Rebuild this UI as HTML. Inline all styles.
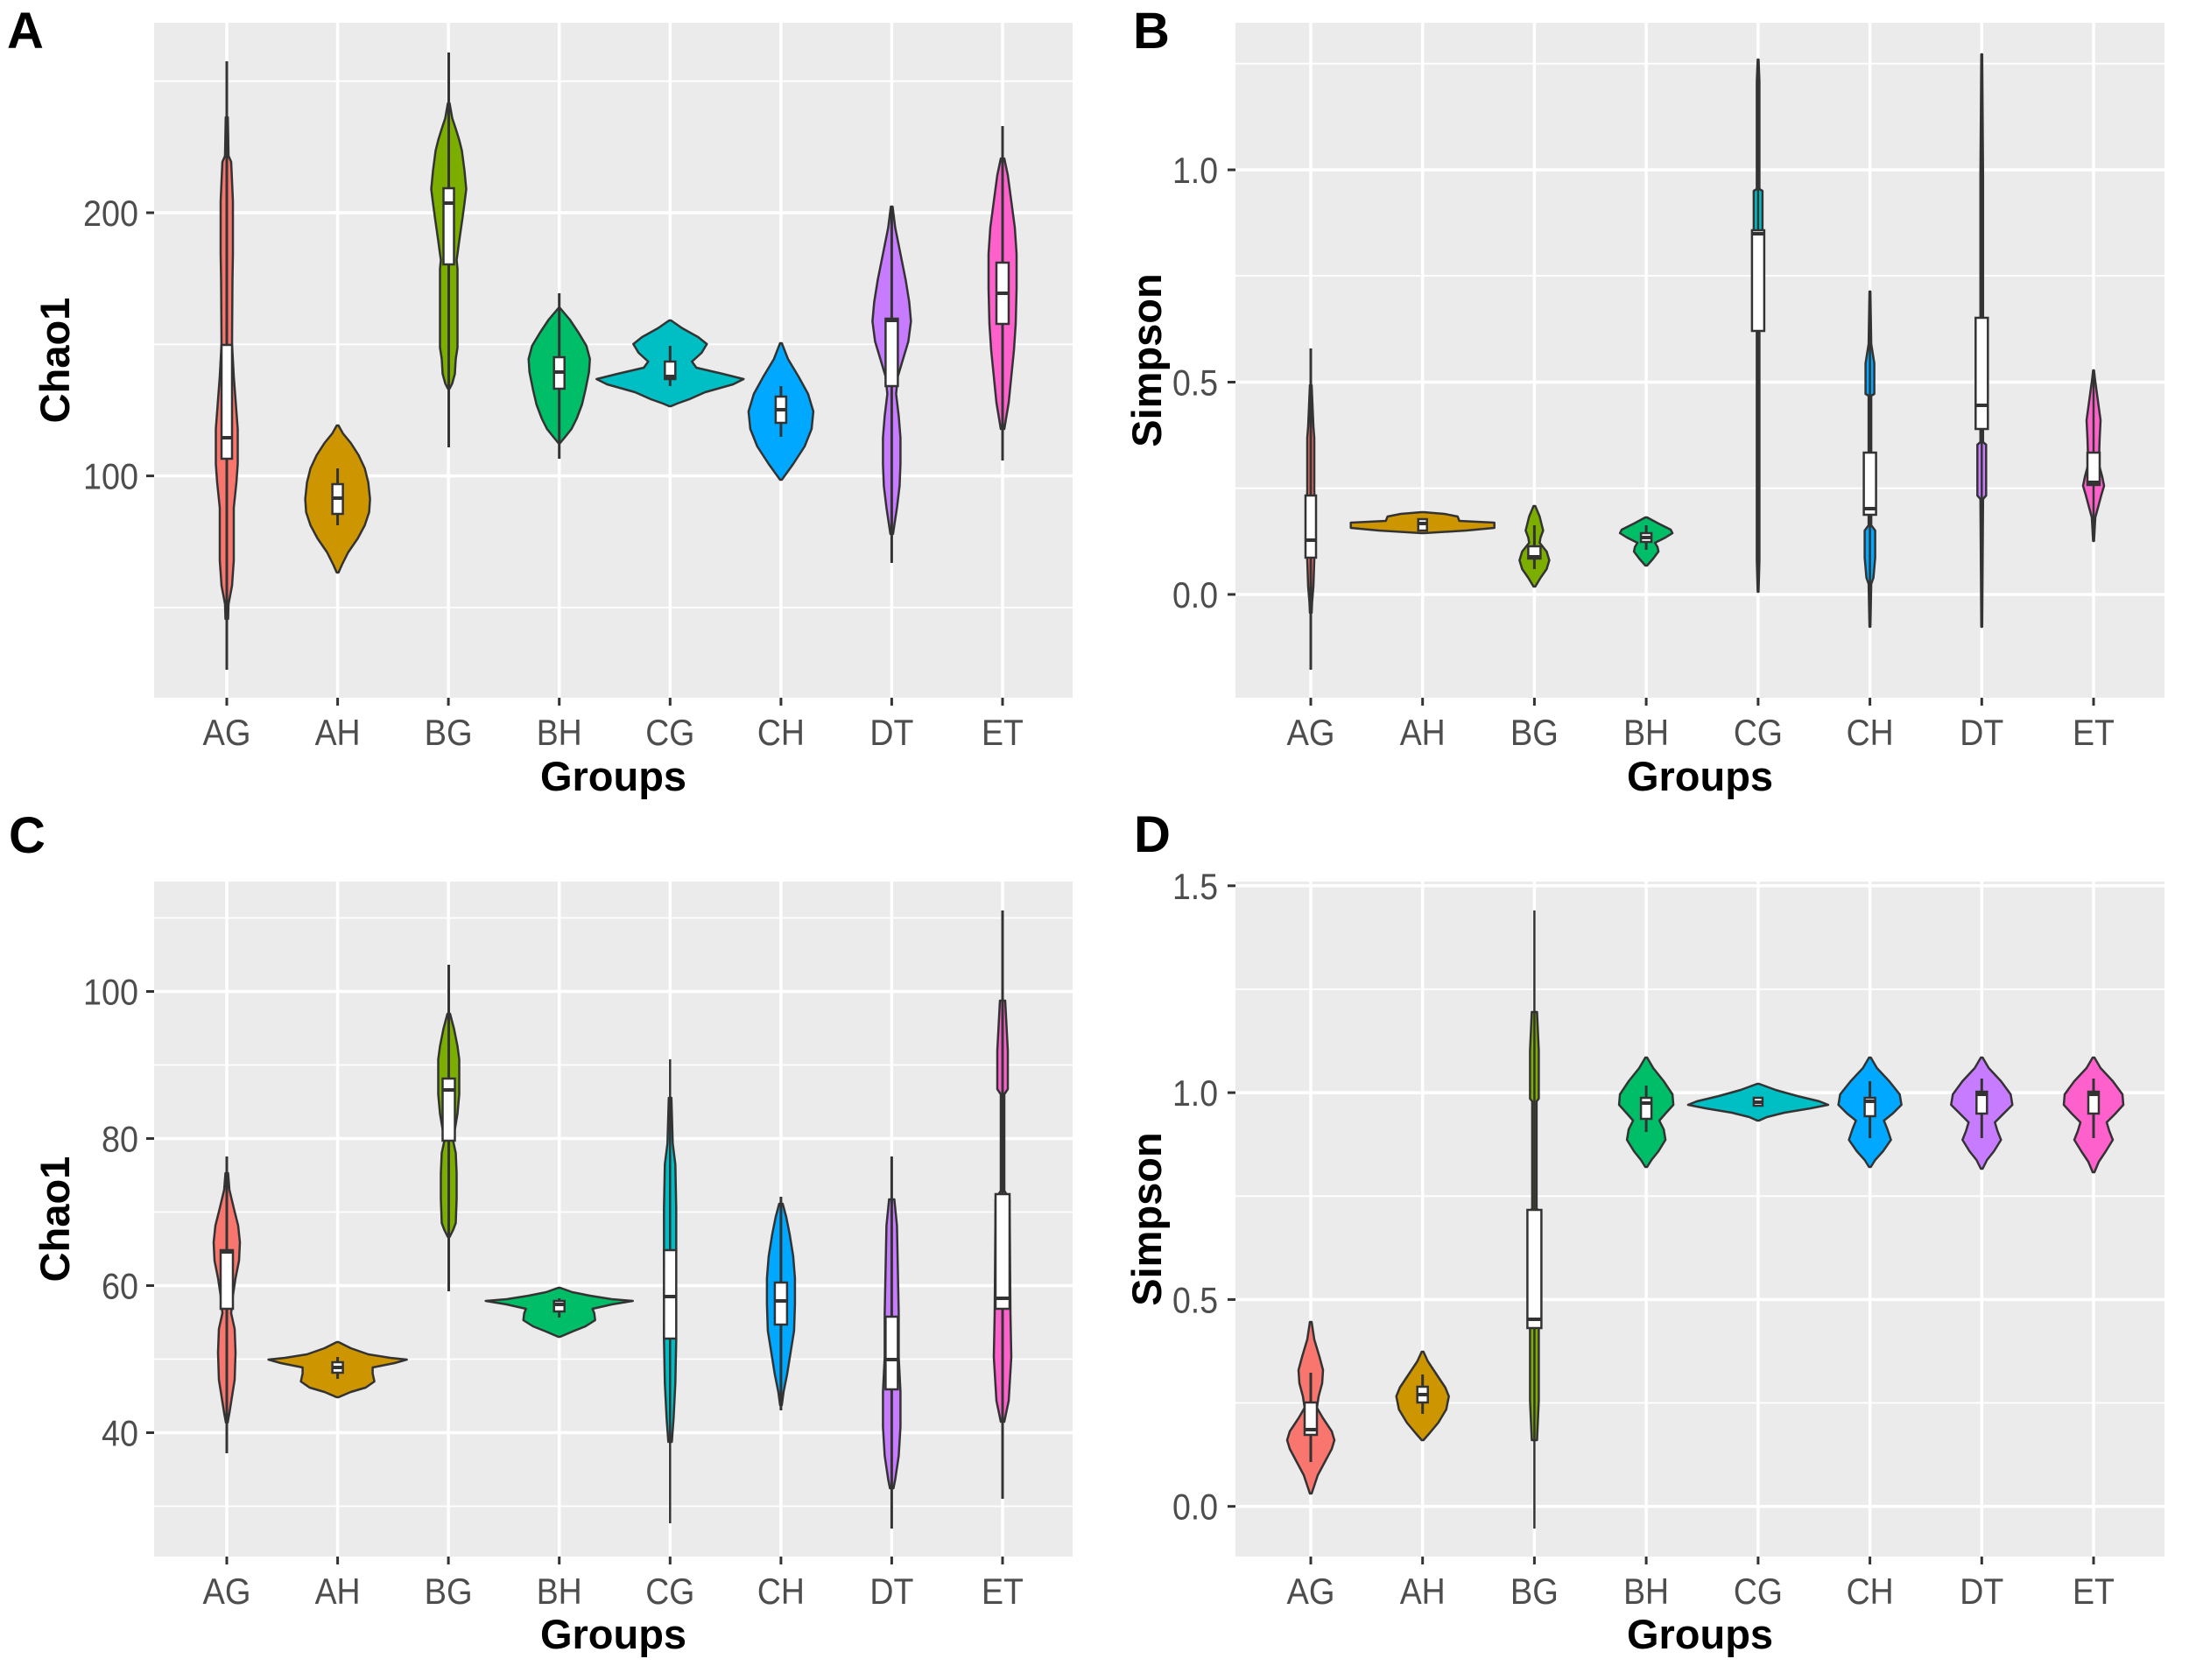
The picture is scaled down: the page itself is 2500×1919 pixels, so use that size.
<!DOCTYPE html>
<html><head><meta charset="utf-8"><style>
html,body{margin:0;padding:0;background:#fff;}
svg{display:block;}
.v{stroke:#333;stroke-width:2.5;stroke-linejoin:round;}
.ln{stroke:#333;stroke-width:3;}
.bx{fill:#fff;stroke:#333;stroke-width:2.5;}
.md{stroke:#333;stroke-width:4;}
.gM{stroke:#fff;stroke-width:3.5;}
.gm{stroke:#fff;stroke-width:1.8;}
.tk{stroke:#333;stroke-width:3;}
.tl{font-family:"Liberation Sans",Arial,sans-serif;font-size:42px;fill:#4d4d4d;}
.ti{font-family:"Liberation Sans",Arial,sans-serif;font-size:47px;font-weight:bold;fill:#000;}
.pl{font-family:"Liberation Sans",Arial,sans-serif;font-size:58px;font-weight:bold;fill:#000;}
</style></head><body>
<svg width="2500" height="1919" viewBox="0 0 2500 1919" xmlns="http://www.w3.org/2000/svg">
<rect width="2500" height="1919" fill="#fff"/>

<!-- ================= PANEL A ================= -->
<rect x="176" y="26" width="1049" height="771" fill="#ebebeb"/>
<g class="gm"><line x1="176" x2="1225" y1="92.7" y2="92.7"/><line x1="176" x2="1225" y1="393.3" y2="393.3"/><line x1="176" x2="1225" y1="694" y2="694"/></g>
<g class="gM"><line x1="176" x2="1225" y1="243" y2="243"/><line x1="176" x2="1225" y1="543.6" y2="543.6"/>
<line x1="259" x2="259" y1="26" y2="797"/><line x1="385.6" x2="385.6" y1="26" y2="797"/><line x1="512.1" x2="512.1" y1="26" y2="797"/><line x1="638.7" x2="638.7" y1="26" y2="797"/><line x1="765.3" x2="765.3" y1="26" y2="797"/><line x1="891.9" x2="891.9" y1="26" y2="797"/><line x1="1018.4" x2="1018.4" y1="26" y2="797"/><line x1="1145" x2="1145" y1="26" y2="797"/></g>

<g transform="translate(259,0)"><polygon class="v" fill="#F8766D" points="1.2,134 2,178 5,185 6,207 7,230 7,257 7,290 6.5,320 6,393 8,430 11,470 12.5,490 12.5,530 11,551 8,580 8,640 6,669 2,690 1.5,707 -1.5,707 -2,690 -6,669 -8,640 -8,580 -11,551 -12.5,530 -12.5,490 -11,470 -8,430 -6,393 -6.5,320 -7,290 -7,257 -7,230 -6,207 -5,185 -2,178 -1.2,134"/><line class="ln" x1="0" x2="0" y1="70" y2="765"/><rect class="bx" x="-6" y="394" width="12" height="130"/><line class="md" x1="-6" x2="6" y1="500" y2="500"/></g>

<g transform="translate(385.6,0)"><polygon class="v" fill="#CD9600" points="1,486 6,495 15,506 24,520 31,535 35,551 37,570 36,585 31,600 23,615 12,631 5,645 1,654 -1,654 -5,645 -12,631 -23,615 -31,600 -36,585 -37,570 -35,551 -31,535 -24,520 -15,506 -6,495 -1,486"/><line class="ln" x1="0" x2="0" y1="535" y2="600"/><rect class="bx" x="-6" y="553" width="12" height="34"/><line class="md" x1="-6" x2="6" y1="569" y2="569"/></g>

<g transform="translate(512.5,0)"><polygon class="v" fill="#7CAE00" points="1,118 4,135 8,147 12,160 15,172 18,195 20,216 18,232 16,247 14,261 12,275 10,290 9,297 10,307 10,350 10,397 8,410 7,427 4,438 1,444 -1,444 -4,438 -7,427 -8,410 -10,397 -10,350 -10,307 -9,297 -10,290 -12,275 -14,261 -16,247 -18,232 -20,216 -18,195 -15,172 -12,160 -8,147 -4,135 -1,118"/><line class="ln" x1="0" x2="0" y1="60" y2="511"/><rect class="bx" x="-6" y="215" width="12" height="87"/><line class="md" x1="-6" x2="6" y1="232" y2="232"/></g>

<g transform="translate(638.7,0)"><polygon class="v" fill="#00BE67" points="1,352 12,365 22,380 31,395 35,410 34,425 30,445 26,462 20,478 14,490 6,500 1,506 -1,506 -6,500 -14,490 -20,478 -26,462 -30,445 -34,425 -35,410 -31,395 -22,380 -12,365 -1,352"/><line class="ln" x1="0" x2="0" y1="335" y2="524"/><rect class="bx" x="-6" y="408" width="12" height="36"/><line class="md" x1="-6" x2="6" y1="425" y2="425"/></g>

<g transform="translate(765.3,0)"><polygon class="v" fill="#00BFC4" points="1,366 14,375 32,385 42,393 36,403 25,413 30,420 60,427 84,433 72,439 40,448 22,456 8,461 1,464 -1,464 -8,461 -22,456 -40,448 -72,439 -84,433 -60,427 -30,420 -25,413 -36,403 -42,393 -32,385 -14,375 -1,366"/><line class="ln" x1="0" x2="0" y1="395" y2="441"/><rect class="bx" x="-6" y="413" width="12" height="20"/><line class="md" x1="-6" x2="6" y1="430" y2="430"/></g>

<g transform="translate(891.9,0)"><polygon class="v" fill="#00A9FF" points="1,392 8,410 20,430 31,450 37,470 35,490 27,510 14,530 1,548 -1,548 -14,530 -27,510 -35,490 -37,470 -31,450 -20,430 -8,410 -1,392"/><line class="ln" x1="0" x2="0" y1="441" y2="499"/><rect class="bx" x="-6" y="453" width="12" height="30"/><line class="md" x1="-6" x2="6" y1="468" y2="468"/></g>

<g transform="translate(1018.4,0)"><polygon class="v" fill="#C77CFF" points="1,236 4,260 10,290 16,320 20,345 22,367 19,390 13,410 7,430 5,450 8,475 10,500 10,530 9,555 6,580 3,600 1.5,610 -1.5,610 -3,600 -6,580 -9,555 -10,530 -10,500 -8,475 -5,450 -7,430 -13,410 -19,390 -22,367 -20,345 -16,320 -10,290 -4,260 -1,236"/><line class="ln" x1="0" x2="0" y1="236" y2="643"/><rect class="bx" x="-7" y="364" width="14" height="77"/><line class="md" x1="-7" x2="7" y1="366" y2="366"/></g>

<g transform="translate(1145,0)"><polygon class="v" fill="#FF61CC" points="2,181 6,200 10,230 14,260 16,290 16,330 15,370 13,400 10,430 7,460 2,490 -2,490 -7,460 -10,430 -13,400 -15,370 -16,330 -16,290 -14,260 -10,230 -6,200 -2,181"/><line class="ln" x1="0" x2="0" y1="144" y2="526"/><rect class="bx" x="-7" y="300" width="14" height="70"/><line class="md" x1="-7" x2="7" y1="335" y2="335"/></g>

<g class="tk"><line x1="167" x2="176" y1="243" y2="243"/><line x1="167" x2="176" y1="543.6" y2="543.6"/>
<line x1="259" x2="259" y1="797" y2="806"/><line x1="385.6" x2="385.6" y1="797" y2="806"/><line x1="512.1" x2="512.1" y1="797" y2="806"/><line x1="638.7" x2="638.7" y1="797" y2="806"/><line x1="765.3" x2="765.3" y1="797" y2="806"/><line x1="891.9" x2="891.9" y1="797" y2="806"/><line x1="1018.4" x2="1018.4" y1="797" y2="806"/><line x1="1145" x2="1145" y1="797" y2="806"/></g>
<g class="tl" text-anchor="end"><text x="158" y="258" textLength="63" lengthAdjust="spacingAndGlyphs">200</text><text x="158" y="558.6" textLength="63" lengthAdjust="spacingAndGlyphs">100</text></g>
<g class="tl" text-anchor="middle"><text x="259" y="851" textLength="55" lengthAdjust="spacingAndGlyphs">AG</text><text x="385.6" y="851" textLength="52" lengthAdjust="spacingAndGlyphs">AH</text><text x="512.1" y="851" textLength="55" lengthAdjust="spacingAndGlyphs">BG</text><text x="638.7" y="851" textLength="52" lengthAdjust="spacingAndGlyphs">BH</text><text x="765.3" y="851" textLength="56" lengthAdjust="spacingAndGlyphs">CG</text><text x="891.9" y="851" textLength="54" lengthAdjust="spacingAndGlyphs">CH</text><text x="1018.4" y="851" textLength="50" lengthAdjust="spacingAndGlyphs">DT</text><text x="1145" y="851" textLength="48" lengthAdjust="spacingAndGlyphs">ET</text></g>
<text class="ti" x="700.5" y="903" text-anchor="middle">Groups</text>
<text class="ti" transform="translate(79,411.5) rotate(-90)" text-anchor="middle">Chao1</text>
<text class="pl" x="8" y="55">A</text>

<!-- ================= PANEL B ================= -->
<rect x="1411" y="26" width="1061" height="771" fill="#ebebeb"/>
<g class="gm"><line x1="1411" x2="2472" y1="72.7" y2="72.7"/><line x1="1411" x2="2472" y1="315" y2="315"/><line x1="1411" x2="2472" y1="557.7" y2="557.7"/></g>
<g class="gM"><line x1="1411" x2="2472" y1="194" y2="194"/><line x1="1411" x2="2472" y1="436.5" y2="436.5"/><line x1="1411" x2="2472" y1="679" y2="679"/>
<line x1="1497" x2="1497" y1="26" y2="797"/><line x1="1624.7" x2="1624.7" y1="26" y2="797"/><line x1="1752.4" x2="1752.4" y1="26" y2="797"/><line x1="1880.1" x2="1880.1" y1="26" y2="797"/><line x1="2007.9" x2="2007.9" y1="26" y2="797"/><line x1="2135.6" x2="2135.6" y1="26" y2="797"/><line x1="2263.3" x2="2263.3" y1="26" y2="797"/><line x1="2391" x2="2391" y1="26" y2="797"/></g>

<g transform="translate(1497,0)"><polygon class="v" fill="#F8766D" points="1,440 3,487 4,500 4,560 5,600 4,640 3,670 1.5,688 1,700 -1,700 -1.5,688 -3,670 -4,640 -5,600 -4,560 -4,500 -3,487 -1,440"/><line class="ln" x1="0" x2="0" y1="398" y2="765"/><rect class="bx" x="-6" y="566" width="12" height="71"/><line class="md" x1="-6" x2="6" y1="617" y2="617"/></g>

<g transform="translate(1624.7,0)"><polygon class="v" fill="#CD9600" points="1,585 25,587 40,590 42,595 82,597 82,603 50,606 1,609 -1,609 -50,606 -82,603 -82,597 -42,595 -40,590 -25,587 -1,585"/><rect class="bx" x="-5" y="593" width="10" height="13"/><line class="md" x1="-5" x2="5" y1="598" y2="598"/></g>

<g transform="translate(1752.4,0)"><polygon class="v" fill="#7CAE00" points="1,578 6,590 10,606 7,614 6,620 14,630 17,640 14,650 7,660 1,670 -1,670 -7,660 -14,650 -17,640 -14,630 -6,620 -7,614 -10,606 -6,590 -1,578"/><line class="ln" x1="0" x2="0" y1="600" y2="650"/><rect class="bx" x="-7" y="624" width="14" height="14"/><line class="md" x1="-7" x2="7" y1="636" y2="636"/></g>

<g transform="translate(1880.1,0)"><polygon class="v" fill="#00BE67" points="1,591 14,598 28,605 30,609 22,614 10,620 13,625 14,630 8,638 1,646 -1,646 -8,638 -14,630 -13,625 -10,620 -22,614 -30,609 -28,605 -14,598 -1,591"/><line class="ln" x1="0" x2="0" y1="600" y2="628"/><rect class="bx" x="-6" y="609" width="12" height="10"/><line class="md" x1="-6" x2="6" y1="614" y2="614"/></g>

<g transform="translate(2007.9,0)"><polygon class="v" fill="#00BFC4" points="0.5,68 1.5,93 1.5,216 5,218 5,263 1.5,266 1.5,640 0.5,676 -0.5,676 -1.5,640 -1.5,266 -5,263 -5,218 -1.5,216 -1.5,93 -0.5,68"/><line class="ln" x1="0" x2="0" y1="68" y2="676" style="stroke-width:2.5"/><rect class="bx" x="-7" y="263" width="14" height="115"/><line class="md" x1="-7" x2="7" y1="267" y2="267"/></g>

<g transform="translate(2135.6,0)"><polygon class="v" fill="#00A9FF" points="0.5,333 1.5,393 5,415 5,450 1.5,452 1.5,600 6,606 6,637 4,660 1.5,667 0.5,716 -0.5,716 -1.5,667 -4,660 -6,637 -6,606 -1.5,600 -1.5,452 -5,450 -5,415 -1.5,393 -0.5,333"/><line class="ln" x1="0" x2="0" y1="333" y2="716" style="stroke-width:2.5"/><rect class="bx" x="-7" y="517" width="14" height="71"/><line class="md" x1="-7" x2="7" y1="581" y2="581"/></g>

<g transform="translate(2263.3,0)"><polygon class="v" fill="#C77CFF" points="0.5,62 1.5,200 1.5,505 5,508 5,566 1.5,570 0.5,716 -0.5,716 -1.5,570 -5,566 -5,508 -1.5,505 -1.5,200 -0.5,62"/><line class="ln" x1="0" x2="0" y1="62" y2="716" style="stroke-width:2.5"/><rect class="bx" x="-7" y="363" width="14" height="127"/><line class="md" x1="-7" x2="7" y1="463" y2="463"/></g>

<g transform="translate(2391,0)"><polygon class="v" fill="#FF61CC" points="0.5,423 1.5,432 5,458 8,480 7,500 6,530 10,545 12,555 9,565 5,580 2,591 0.5,618 -0.5,618 -2,591 -5,580 -9,565 -12,555 -10,545 -6,530 -7,500 -8,480 -5,458 -1.5,432 -0.5,423"/><line class="ln" x1="0" x2="0" y1="423" y2="618" style="stroke-width:2.5"/><rect class="bx" x="-7" y="517" width="14" height="37"/><line class="md" x1="-7" x2="7" y1="551" y2="551"/></g>

<g class="tk"><line x1="1402" x2="1411" y1="194" y2="194"/><line x1="1402" x2="1411" y1="436.5" y2="436.5"/><line x1="1402" x2="1411" y1="679" y2="679"/>
<line x1="1497" x2="1497" y1="797" y2="806"/><line x1="1624.7" x2="1624.7" y1="797" y2="806"/><line x1="1752.4" x2="1752.4" y1="797" y2="806"/><line x1="1880.1" x2="1880.1" y1="797" y2="806"/><line x1="2007.9" x2="2007.9" y1="797" y2="806"/><line x1="2135.6" x2="2135.6" y1="797" y2="806"/><line x1="2263.3" x2="2263.3" y1="797" y2="806"/><line x1="2391" x2="2391" y1="797" y2="806"/></g>
<g class="tl" text-anchor="end"><text x="1391" y="209" textLength="52" lengthAdjust="spacingAndGlyphs">1.0</text><text x="1391" y="451.5" textLength="52" lengthAdjust="spacingAndGlyphs">0.5</text><text x="1391" y="694" textLength="52" lengthAdjust="spacingAndGlyphs">0.0</text></g>
<g class="tl" text-anchor="middle"><text x="1497" y="851" textLength="55" lengthAdjust="spacingAndGlyphs">AG</text><text x="1624.7" y="851" textLength="52" lengthAdjust="spacingAndGlyphs">AH</text><text x="1752.4" y="851" textLength="55" lengthAdjust="spacingAndGlyphs">BG</text><text x="1880.1" y="851" textLength="52" lengthAdjust="spacingAndGlyphs">BH</text><text x="2007.9" y="851" textLength="56" lengthAdjust="spacingAndGlyphs">CG</text><text x="2135.6" y="851" textLength="54" lengthAdjust="spacingAndGlyphs">CH</text><text x="2263.3" y="851" textLength="50" lengthAdjust="spacingAndGlyphs">DT</text><text x="2391" y="851" textLength="48" lengthAdjust="spacingAndGlyphs">ET</text></g>
<text class="ti" x="1941.5" y="903" text-anchor="middle">Groups</text>
<text class="ti" transform="translate(1326,411.5) rotate(-90)" text-anchor="middle">Simpson</text>
<text class="pl" x="1294" y="55">B</text>

<!-- ================= PANEL C ================= -->
<rect x="176" y="1007" width="1049" height="771" fill="#ebebeb"/>
<g class="gm"><line x1="176" x2="1225" y1="1048.5" y2="1048.5"/><line x1="176" x2="1225" y1="1216.5" y2="1216.5"/><line x1="176" x2="1225" y1="1384.5" y2="1384.5"/><line x1="176" x2="1225" y1="1552.5" y2="1552.5"/><line x1="176" x2="1225" y1="1720.5" y2="1720.5"/></g>
<g class="gM"><line x1="176" x2="1225" y1="1132.5" y2="1132.5"/><line x1="176" x2="1225" y1="1300.5" y2="1300.5"/><line x1="176" x2="1225" y1="1468.5" y2="1468.5"/><line x1="176" x2="1225" y1="1636.5" y2="1636.5"/>
<line x1="259" x2="259" y1="1007" y2="1778"/><line x1="385.6" x2="385.6" y1="1007" y2="1778"/><line x1="512.1" x2="512.1" y1="1007" y2="1778"/><line x1="638.7" x2="638.7" y1="1007" y2="1778"/><line x1="765.3" x2="765.3" y1="1007" y2="1778"/><line x1="891.9" x2="891.9" y1="1007" y2="1778"/><line x1="1018.4" x2="1018.4" y1="1007" y2="1778"/><line x1="1145" x2="1145" y1="1007" y2="1778"/></g>

<g transform="translate(259,0)"><polygon class="v" fill="#F8766D" points="1.5,1340 3,1359 8,1380 13,1400 15,1419 14,1440 10,1460 7,1480 5,1500 9,1518 10,1545 9,1576 6,1595 3,1614 1,1625 -1,1625 -3,1614 -6,1595 -9,1576 -10,1545 -9,1518 -5,1500 -7,1480 -10,1460 -14,1440 -15,1419 -13,1400 -8,1380 -3,1359 -1.5,1340"/><line class="ln" x1="0" x2="0" y1="1321" y2="1660"/><rect class="bx" x="-7" y="1428" width="14" height="67"/><line class="md" x1="-7" x2="7" y1="1430" y2="1430"/></g>

<g transform="translate(385.6,0)"><polygon class="v" fill="#CD9600" points="1,1533 15,1540 35,1547 60,1551 79,1553 65,1557 40,1562 40,1569 42,1578 32,1585 15,1590 1,1596 -1,1596 -15,1590 -32,1585 -42,1578 -40,1569 -40,1562 -65,1557 -79,1553 -60,1551 -35,1547 -15,1540 -1,1533"/><line class="ln" x1="0" x2="0" y1="1550" y2="1575"/><rect class="bx" x="-6" y="1556" width="12" height="12"/><line class="md" x1="-6" x2="6" y1="1562" y2="1562"/></g>

<g transform="translate(512.5,0)"><polygon class="v" fill="#7CAE00" points="1.5,1158 6,1175 10,1195 12,1210 12,1250 10,1272 7,1290 5,1303 8,1317 9,1340 9,1370 8,1397 5,1405 1,1413 -1,1413 -5,1405 -8,1397 -9,1370 -9,1340 -8,1317 -5,1303 -7,1290 -10,1272 -12,1250 -12,1210 -10,1195 -6,1175 -1.5,1158"/><line class="ln" x1="0" x2="0" y1="1102" y2="1475"/><rect class="bx" x="-7" y="1232" width="14" height="71"/><line class="md" x1="-7" x2="7" y1="1245" y2="1245"/></g>

<g transform="translate(638.7,0)"><polygon class="v" fill="#00BE67" points="1,1471 15,1476 35,1480 60,1484 84,1486 60,1490 38,1495 40,1500 41,1508 30,1515 15,1521 1,1527 -1,1527 -15,1521 -30,1515 -41,1508 -40,1500 -38,1495 -60,1490 -84,1486 -60,1484 -35,1480 -15,1476 -1,1471"/><line class="ln" x1="0" x2="0" y1="1483" y2="1505"/><rect class="bx" x="-6" y="1486" width="12" height="12"/><line class="md" x1="-6" x2="6" y1="1490" y2="1490"/></g>

<g transform="translate(765.3,0)"><polygon class="v" fill="#00BFC4" points="1.5,1254 3,1306 6,1330 7,1380 7,1430 6,1480 7,1530 6,1580 4,1620 2,1647 -2,1647 -4,1620 -6,1580 -7,1530 -6,1480 -7,1430 -7,1380 -6,1330 -3,1306 -1.5,1254"/><line class="ln" x1="0" x2="0" y1="1210" y2="1740" style="stroke-width:2.5"/><rect class="bx" x="-7" y="1428" width="14" height="101"/><line class="md" x1="-7" x2="7" y1="1481" y2="1481"/></g>

<g transform="translate(891.9,0)"><polygon class="v" fill="#00A9FF" points="2,1375 6,1390 10,1410 14,1435 16,1460 16,1490 15,1520 11,1545 7,1570 3,1590 1,1605 -1,1605 -3,1590 -7,1570 -11,1545 -15,1520 -16,1490 -16,1460 -14,1435 -10,1410 -6,1390 -2,1375"/><line class="ln" x1="0" x2="0" y1="1367" y2="1611"/><rect class="bx" x="-7" y="1465" width="14" height="48"/><line class="md" x1="-7" x2="7" y1="1486" y2="1486"/></g>

<g transform="translate(1018.4,0)"><polygon class="v" fill="#C77CFF" points="3,1370 6,1400 7,1450 8,1500 8,1550 10,1590 10,1630 8,1663 4,1690 2,1700 -2,1700 -4,1690 -8,1663 -10,1630 -10,1590 -8,1550 -8,1500 -7,1450 -6,1400 -3,1370"/><line class="ln" x1="0" x2="0" y1="1321" y2="1746"/><rect class="bx" x="-7" y="1504" width="14" height="83"/><line class="md" x1="-7" x2="7" y1="1553" y2="1553"/></g>

<g transform="translate(1145,0)"><polygon class="v" fill="#FF61CC" points="3,1143 6,1200 6,1244 2,1250 2,1360 8,1370 9,1500 10,1550 7,1600 2,1624 -2,1624 -7,1600 -10,1550 -9,1500 -8,1370 -2,1360 -2,1250 -6,1244 -6,1200 -3,1143"/><line class="ln" x1="0" x2="0" y1="1040" y2="1712"/><rect class="bx" x="-8" y="1364" width="16" height="131"/><line class="md" x1="-8" x2="8" y1="1483" y2="1483"/></g>

<g class="tk"><line x1="167" x2="176" y1="1132.5" y2="1132.5"/><line x1="167" x2="176" y1="1300.5" y2="1300.5"/><line x1="167" x2="176" y1="1468.5" y2="1468.5"/><line x1="167" x2="176" y1="1636.5" y2="1636.5"/>
<line x1="259" x2="259" y1="1778" y2="1787"/><line x1="385.6" x2="385.6" y1="1778" y2="1787"/><line x1="512.1" x2="512.1" y1="1778" y2="1787"/><line x1="638.7" x2="638.7" y1="1778" y2="1787"/><line x1="765.3" x2="765.3" y1="1778" y2="1787"/><line x1="891.9" x2="891.9" y1="1778" y2="1787"/><line x1="1018.4" x2="1018.4" y1="1778" y2="1787"/><line x1="1145" x2="1145" y1="1778" y2="1787"/></g>
<g class="tl" text-anchor="end"><text x="158" y="1147.5" textLength="63" lengthAdjust="spacingAndGlyphs">100</text><text x="158" y="1315.5" textLength="42" lengthAdjust="spacingAndGlyphs">80</text><text x="158" y="1483.5" textLength="42" lengthAdjust="spacingAndGlyphs">60</text><text x="158" y="1651.5" textLength="42" lengthAdjust="spacingAndGlyphs">40</text></g>
<g class="tl" text-anchor="middle"><text x="259" y="1832" textLength="55" lengthAdjust="spacingAndGlyphs">AG</text><text x="385.6" y="1832" textLength="52" lengthAdjust="spacingAndGlyphs">AH</text><text x="512.1" y="1832" textLength="55" lengthAdjust="spacingAndGlyphs">BG</text><text x="638.7" y="1832" textLength="52" lengthAdjust="spacingAndGlyphs">BH</text><text x="765.3" y="1832" textLength="56" lengthAdjust="spacingAndGlyphs">CG</text><text x="891.9" y="1832" textLength="54" lengthAdjust="spacingAndGlyphs">CH</text><text x="1018.4" y="1832" textLength="50" lengthAdjust="spacingAndGlyphs">DT</text><text x="1145" y="1832" textLength="48" lengthAdjust="spacingAndGlyphs">ET</text></g>
<text class="ti" x="700.5" y="1883" text-anchor="middle">Groups</text>
<text class="ti" transform="translate(79,1392.5) rotate(-90)" text-anchor="middle">Chao1</text>
<text class="pl" x="10" y="974">C</text>

<!-- ================= PANEL D ================= -->
<rect x="1411" y="1007" width="1061" height="771" fill="#ebebeb"/>
<g class="gm"><line x1="1411" x2="2472" y1="1130" y2="1130"/><line x1="1411" x2="2472" y1="1366.3" y2="1366.3"/><line x1="1411" x2="2472" y1="1602.5" y2="1602.5"/></g>
<g class="gM"><line x1="1411" x2="2472" y1="1011.8" y2="1011.8"/><line x1="1411" x2="2472" y1="1248.1" y2="1248.1"/><line x1="1411" x2="2472" y1="1484.4" y2="1484.4"/><line x1="1411" x2="2472" y1="1720.7" y2="1720.7"/>
<line x1="1497" x2="1497" y1="1007" y2="1778"/><line x1="1624.7" x2="1624.7" y1="1007" y2="1778"/><line x1="1752.4" x2="1752.4" y1="1007" y2="1778"/><line x1="1880.1" x2="1880.1" y1="1007" y2="1778"/><line x1="2007.9" x2="2007.9" y1="1007" y2="1778"/><line x1="2135.6" x2="2135.6" y1="1007" y2="1778"/><line x1="2263.3" x2="2263.3" y1="1007" y2="1778"/><line x1="2391" x2="2391" y1="1007" y2="1778"/></g>

<g transform="translate(1497,0)"><polygon class="v" fill="#F8766D" points="1,1510 4,1530 10,1550 14,1565 13,1580 9,1595 7,1608 14,1620 24,1635 27,1645 24,1655 16,1670 8,1685 3,1700 1,1706 -1,1706 -3,1700 -8,1685 -16,1670 -24,1655 -27,1645 -24,1635 -14,1620 -7,1608 -9,1595 -13,1580 -14,1565 -10,1550 -4,1530 -1,1510"/><line class="ln" x1="0" x2="0" y1="1568" y2="1670"/><rect class="bx" x="-7" y="1602" width="14" height="37"/><line class="md" x1="-7" x2="7" y1="1633" y2="1633"/></g>

<g transform="translate(1624.7,0)"><polygon class="v" fill="#CD9600" points="1,1544 6,1555 16,1570 26,1585 30,1595 27,1610 18,1625 8,1637 1,1645 -1,1645 -8,1637 -18,1625 -27,1610 -30,1595 -26,1585 -16,1570 -6,1555 -1,1544"/><line class="ln" x1="0" x2="0" y1="1570" y2="1615"/><rect class="bx" x="-6" y="1584" width="12" height="18"/><line class="md" x1="-6" x2="6" y1="1593" y2="1593"/></g>

<g transform="translate(1752.4,0)"><polygon class="v" fill="#7CAE00" points="3,1156 5,1200 5,1255 2.5,1258 2.5,1380 5,1385 5,1600 3,1645 -3,1645 -5,1600 -5,1385 -2.5,1380 -2.5,1258 -5,1255 -5,1200 -3,1156"/><line class="ln" x1="0" x2="0" y1="1040" y2="1746" style="stroke-width:2.5"/><rect class="bx" x="-8" y="1382" width="16" height="135"/><line class="md" x1="-8" x2="8" y1="1507" y2="1507"/></g>

<g transform="translate(1880.1,0)"><polygon class="v" fill="#00BE67" points="1,1208 8,1220 20,1235 30,1250 31,1262 22,1272 15,1280 20,1290 22,1302 14,1315 6,1325 1,1333 -1,1333 -6,1325 -14,1315 -22,1302 -20,1290 -15,1280 -22,1272 -31,1262 -30,1250 -20,1235 -8,1220 -1,1208"/><line class="ln" x1="0" x2="0" y1="1240" y2="1293"/><rect class="bx" x="-6" y="1254" width="12" height="24"/><line class="md" x1="-6" x2="6" y1="1260" y2="1260"/></g>

<g transform="translate(2007.9,0)"><polygon class="v" fill="#00BFC4" points="1,1238 20,1245 45,1252 70,1258 80,1262 60,1266 30,1271 10,1276 1,1280 -1,1280 -10,1276 -30,1271 -60,1266 -80,1262 -70,1258 -45,1252 -20,1245 -1,1238"/><rect class="bx" x="-5" y="1254" width="10" height="9"/><line class="md" x1="-5" x2="5" y1="1259" y2="1259"/></g>

<g transform="translate(2135.6,0)"><polygon class="v" fill="#00A9FF" points="1,1208 8,1220 22,1235 34,1250 36,1262 26,1272 16,1280 20,1290 24,1302 15,1315 6,1325 1,1333 -1,1333 -6,1325 -15,1315 -24,1302 -20,1290 -16,1280 -26,1272 -36,1262 -34,1250 -22,1235 -8,1220 -1,1208"/><line class="ln" x1="0" x2="0" y1="1235" y2="1300"/><rect class="bx" x="-6" y="1254" width="12" height="21"/><line class="md" x1="-6" x2="6" y1="1258" y2="1258"/></g>

<g transform="translate(2263.3,0)"><polygon class="v" fill="#C77CFF" points="1,1208 8,1220 22,1235 33,1250 35,1262 25,1272 15,1282 18,1292 22,1302 14,1315 6,1325 1,1335 -1,1335 -6,1325 -14,1315 -22,1302 -18,1292 -15,1282 -25,1272 -35,1262 -33,1250 -22,1235 -8,1220 -1,1208"/><line class="ln" x1="0" x2="0" y1="1232" y2="1300"/><rect class="bx" x="-6" y="1247" width="12" height="25"/><line class="md" x1="-6" x2="6" y1="1250" y2="1250"/></g>

<g transform="translate(2391,0)"><polygon class="v" fill="#FF61CC" points="1,1208 8,1220 22,1235 33,1250 34,1262 25,1272 15,1282 18,1292 22,1302 14,1315 6,1327 1,1339 -1,1339 -6,1327 -14,1315 -22,1302 -18,1292 -15,1282 -25,1272 -34,1262 -33,1250 -22,1235 -8,1220 -1,1208"/><line class="ln" x1="0" x2="0" y1="1232" y2="1300"/><rect class="bx" x="-6" y="1247" width="12" height="25"/><line class="md" x1="-6" x2="6" y1="1250" y2="1250"/></g>

<g class="tk"><line x1="1402" x2="1411" y1="1011.8" y2="1011.8"/><line x1="1402" x2="1411" y1="1248.1" y2="1248.1"/><line x1="1402" x2="1411" y1="1484.4" y2="1484.4"/><line x1="1402" x2="1411" y1="1720.7" y2="1720.7"/>
<line x1="1497" x2="1497" y1="1778" y2="1787"/><line x1="1624.7" x2="1624.7" y1="1778" y2="1787"/><line x1="1752.4" x2="1752.4" y1="1778" y2="1787"/><line x1="1880.1" x2="1880.1" y1="1778" y2="1787"/><line x1="2007.9" x2="2007.9" y1="1778" y2="1787"/><line x1="2135.6" x2="2135.6" y1="1778" y2="1787"/><line x1="2263.3" x2="2263.3" y1="1778" y2="1787"/><line x1="2391" x2="2391" y1="1778" y2="1787"/></g>
<g class="tl" text-anchor="end"><text x="1391" y="1026.8" textLength="52" lengthAdjust="spacingAndGlyphs">1.5</text><text x="1391" y="1263.1" textLength="52" lengthAdjust="spacingAndGlyphs">1.0</text><text x="1391" y="1499.4" textLength="52" lengthAdjust="spacingAndGlyphs">0.5</text><text x="1391" y="1735.7" textLength="52" lengthAdjust="spacingAndGlyphs">0.0</text></g>
<g class="tl" text-anchor="middle"><text x="1497" y="1832" textLength="55" lengthAdjust="spacingAndGlyphs">AG</text><text x="1624.7" y="1832" textLength="52" lengthAdjust="spacingAndGlyphs">AH</text><text x="1752.4" y="1832" textLength="55" lengthAdjust="spacingAndGlyphs">BG</text><text x="1880.1" y="1832" textLength="52" lengthAdjust="spacingAndGlyphs">BH</text><text x="2007.9" y="1832" textLength="56" lengthAdjust="spacingAndGlyphs">CG</text><text x="2135.6" y="1832" textLength="54" lengthAdjust="spacingAndGlyphs">CH</text><text x="2263.3" y="1832" textLength="50" lengthAdjust="spacingAndGlyphs">DT</text><text x="2391" y="1832" textLength="48" lengthAdjust="spacingAndGlyphs">ET</text></g>
<text class="ti" x="1941.5" y="1883" text-anchor="middle">Groups</text>
<text class="ti" transform="translate(1326,1392.5) rotate(-90)" text-anchor="middle">Simpson</text>
<text class="pl" x="1295" y="973">D</text>
</svg>
</body></html>
